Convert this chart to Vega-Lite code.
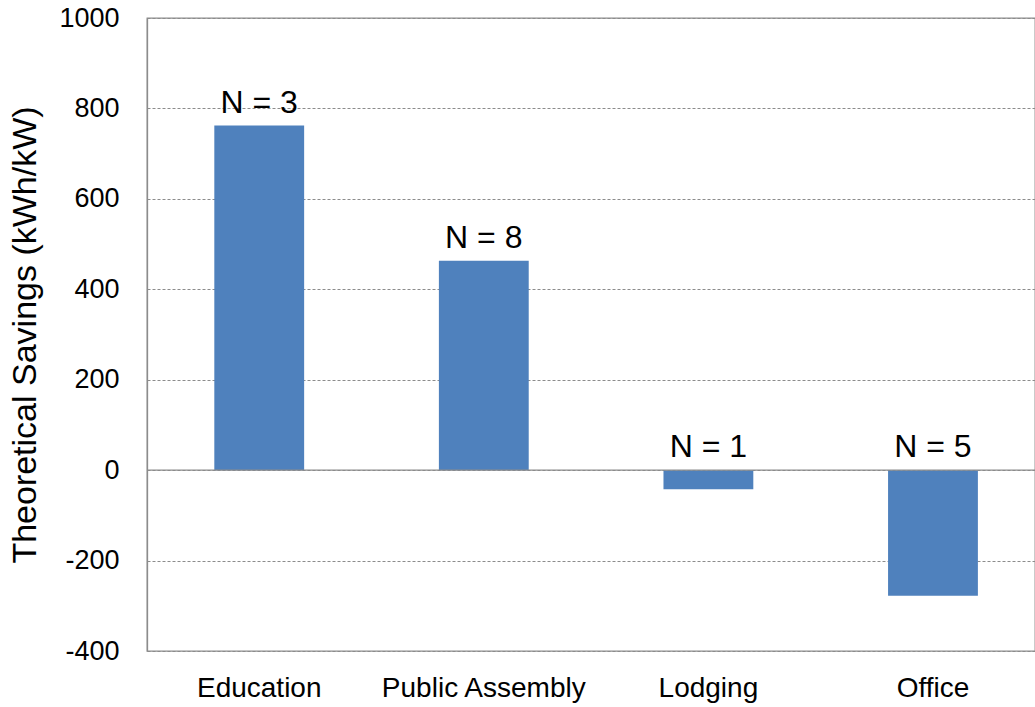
{
  "$schema": "https://vega.github.io/schema/vega-lite/v6.json",
  "width": 888,
  "height": 633,
  "autosize": {"type": "none"},
  "padding": {"left": 147, "top": 18, "right": 0, "bottom": 56},
  "background": "white",
  "config": {
    "view": {"stroke": "#8c8c8c", "strokeWidth": 1.3},
    "font": "Liberation Sans"
  },
  "data": {
    "values": [
      {"category": "Education", "savings": 762, "label": "N = 3"},
      {"category": "Public Assembly", "savings": 463, "label": "N = 8"},
      {"category": "Lodging", "savings": -42, "label": "N = 1"},
      {"category": "Office", "savings": -278, "label": "N = 5"}
    ]
  },
  "layer": [
    {
      "mark": {"type": "bar", "color": "#4F81BD"},
      "encoding": {
        "x": {
          "field": "category",
          "type": "nominal",
          "sort": null,
          "scale": {"paddingInner": 0.6, "paddingOuter": 0.277, "align": 0.541},
          "axis": {
            "title": null,
            "labelAngle": 0,
            "ticks": false,
            "domain": false,
            "grid": false,
            "labelFontSize": 28,
            "labelLimit": 0,
            "labelPadding": 23,
            "labelColor": "black"
          }
        },
        "y": {
          "field": "savings",
          "type": "quantitative",
          "scale": {"domain": [-400, 1000], "nice": false, "zero": false},
          "axis": {
            "title": "Theoretical Savings (kWh/kW)",
            "values": [-400, -200, 0, 200, 400, 600, 800, 1000],
            "labelExpr": "'' + datum.value",
            "ticks": false,
            "domainColor": "#8c8c8c",
            "domainWidth": 1.3,
            "gridColor": "#8c8c8c",
            "gridDash": [3, 2],
            "gridWidth": 1,
            "labelFontSize": 27,
            "labelPadding": 28,
            "labelColor": "black",
            "labelFlush": false,
            "labelOverlap": false,
            "titleFontSize": 34,
            "titleFontWeight": "normal",
            "titleColor": "black",
            "titleX": -105
          }
        }
      }
    },
    {
      "data": {"values": [{}]},
      "mark": {"type": "rule", "color": "#8c8c8c", "strokeWidth": 1.3},
      "encoding": {"y": {"datum": 0, "type": "quantitative"}}
    },
    {
      "transform": [{"calculate": "max(datum.savings, 0)", "as": "labelY"}],
      "mark": {"type": "text", "fontSize": 32, "color": "black", "baseline": "alphabetic", "dy": -13},
      "encoding": {
        "x": {"field": "category", "type": "nominal", "sort": null},
        "y": {"field": "labelY", "type": "quantitative"},
        "text": {"field": "label"}
      }
    }
  ]
}
